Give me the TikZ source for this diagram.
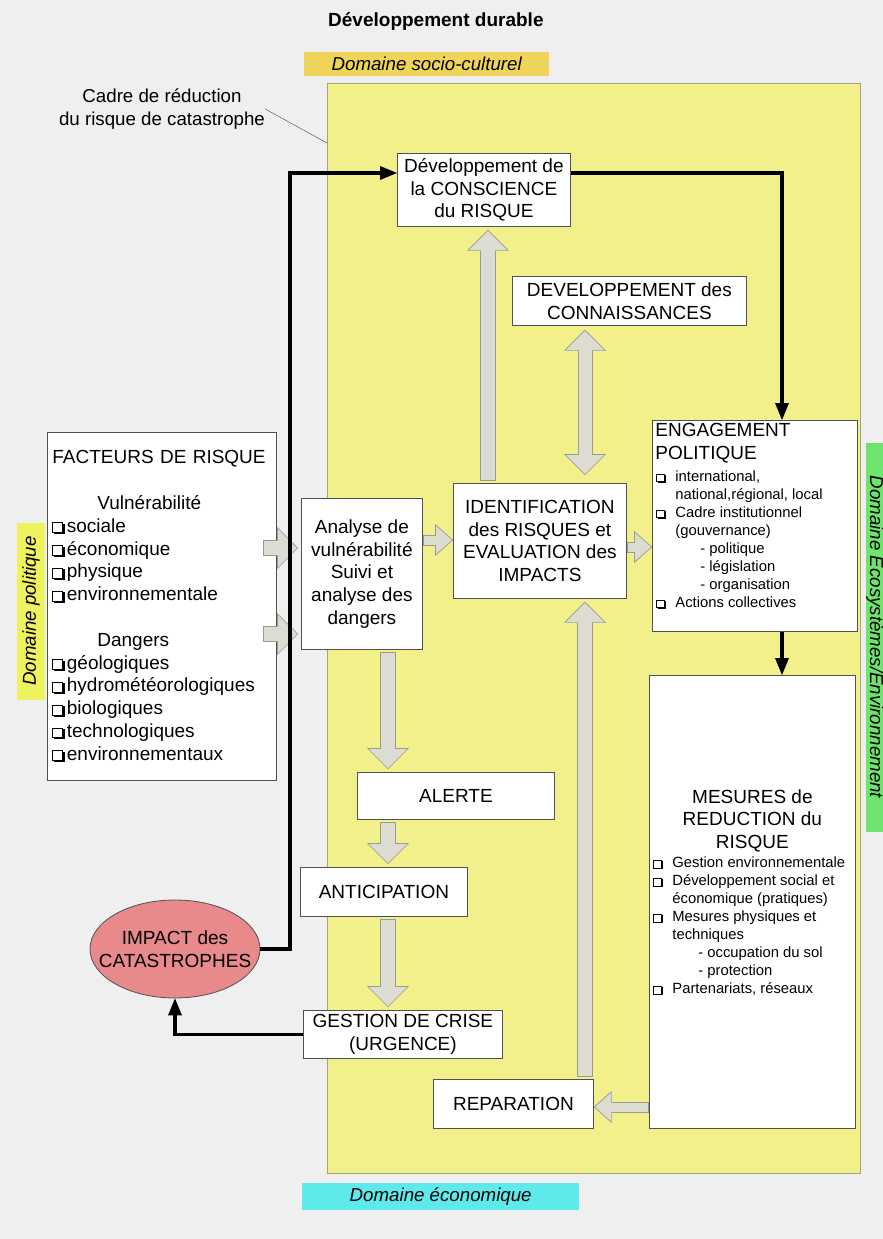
\documentclass[tikz,border=0pt]{standalone}
\usepackage{fontspec}
\setmainfont{Liberation Sans}
\usetikzlibrary{arrows.meta,shapes.geometric,calc}

\definecolor{bggray}{HTML}{EFEFEF}
\definecolor{ylw}{HTML}{F2F08A}
\definecolor{ylwline}{HTML}{A4A47C}
\definecolor{socioband}{HTML}{F0D45A}
\definecolor{polband}{HTML}{EEF25C}
\definecolor{ecoband}{HTML}{6EE46E}
\definecolor{cyanband}{HTML}{5EEAEA}
\definecolor{boxline}{HTML}{505050}
\definecolor{arrowfill}{HTML}{DCDCD2}
\definecolor{arrowline}{HTML}{9A9A94}
\definecolor{impactfill}{HTML}{E8898B}

\newcommand\bigtxt{\fontsize{19}{22.8}\selectfont}
\newcommand\smalltxt{\fontsize{14.8}{18}\selectfont}
\newcommand\bandtxt{\fontsize{18.7}{22.6}\selectfont}
% shadowed check box
\newcommand\cb[2]{{\setlength\fboxsep{0pt}\setlength\fboxrule{0.7pt}%
  \rlap{\hspace{#2}\raisebox{-#2}{\rule{#1}{#1}}}%
  \fcolorbox{black}{white}{\rule{0pt}{\dimexpr#1-1.4pt\relax}\hspace{\dimexpr#1-1.4pt\relax}}}}
\newcommand\chk{\makebox[20pt][l]{\hspace{0.5pt}\cb{8.5pt}{1.6pt}}}
\newcommand\chkbig{\makebox[14.5pt][l]{\cb{10.5pt}{2pt}}}

\begin{document}
\begin{tikzpicture}[x=1pt, y=-1pt, >={Triangle[length=17pt,width=14pt,line width=0pt]}]
	\tikzset{frame/.style={draw=boxline, fill=white, line width=0.8pt, inner sep=3pt, anchor=north west, font=\bigtxt},
		box/.style={frame, align=center},
		band/.style={inner sep=0pt, font=\bandtxt\itshape},
		flow/.style={line width=3.4pt, ->},
		gbig/.style={draw=arrowfill, line width=14pt, shorten <=3pt, shorten >=4pt,
			-{Triangle[length=19pt,width=38pt,line width=0pt]},
			preaction={draw=arrowline, line width=16pt, shorten <=2pt, shorten >=2.8pt,
				-{Triangle[length=21pt,width=42pt,line width=0pt]}}},
		gdbl/.style={draw=arrowfill, line width=13pt, shorten <=5pt, shorten >=9pt,
			{Triangle[length=19pt,width=38pt,line width=0pt]}-{Triangle[length=19pt,width=38pt,line width=0pt]},
			preaction={draw=arrowline, line width=15pt, shorten <=3.8pt, shorten >=7.8pt,
				{Triangle[length=21pt,width=42pt,line width=0pt]}-{Triangle[length=21pt,width=42pt,line width=0pt]}}},
		gsmall/.style={draw=arrowfill, line width=9pt, shorten <=1pt, shorten >=1pt,
			-{Triangle[length=16pt,width=28pt,line width=0pt]},
			preaction={draw=arrowline, line width=11pt, shorten <=0pt, shorten >=-0.2pt,
				-{Triangle[length=18pt,width=32pt,line width=0pt]}}}}
	\useasboundingbox (0,0) rectangle (883,1239);
	\fill[bggray] (0,0) rectangle (883,1239);

	% domaines
	\node[draw=ylwline, fill=ylw, line width=0.6pt, minimum width=533pt, minimum height=1090pt, inner sep=0pt, anchor=north west] (drr) at (327,83) {};
	\node[font=\bigtxt\bfseries, anchor=west, inner sep=0pt] (durable) at (328,22) {Développement durable};
	\node[band, fill=socioband, minimum width=245pt, minimum height=24pt, anchor=north west] (socio) at (304,52) {Domaine socio-culturel};
	\node[band, fill=polband, rotate=90, minimum width=177pt, minimum height=28pt] (politique) at (31,611) {Domaine politique};
	\node[band, fill=ecoband, rotate=-90, minimum width=389pt, minimum height=16pt] (ecosys) at (875,637) {Domaine Ecosystèmes/Environnement};
	\node[band, fill=cyanband, minimum width=277pt, minimum height=27pt, anchor=north west] (economique) at (302,1183) {Domaine économique};
	\node[font=\bandtxt, align=center, inner sep=0pt] (cadre) at (162,109) {Cadre de réduction\\du risque de catastrophe};
	\draw[line width=0.5pt, gray!70!black] (cadre.east) -- (drr.west |- 0,143);

	% boites
	\node[box, minimum width=173pt, minimum height=73pt] (conscience) at (397,153) {Développement de\\la CONSCIENCE\\du RISQUE};
	\node[box, minimum width=234pt, minimum height=49pt] (connaiss) at (512,276) {DEVELOPPEMENT des\\CONNAISSANCES};
	\node[frame, text width=219pt, inner xsep=5pt, minimum height=348pt, align=left] (facteurs) at (47,432) {FACTEURS DE RISQUE\\[22.8pt]
		\hspace*{45pt}Vulnérabilité\\
		\chkbig sociale\\
		\chkbig économique\\
		\chkbig physique\\
		\chkbig environnementale\\[22.8pt]
		\hspace*{45pt}Dangers\\
		\chkbig géologiques\\
		\chkbig hydrométéorologiques\\
		\chkbig biologiques\\
		\chkbig technologiques\\
		\chkbig environnementaux};
	\node[box, minimum width=121pt, minimum height=151pt] (analyse) at (301,498) {Analyse de\\vulnérabilité\\Suivi et\\analyse des\\dangers};
	\node[box, minimum width=173pt, minimum height=115pt] (ident) at (453,483) {IDENTIFICATION\\des RISQUES et\\EVALUATION des\\IMPACTS};
	\node[frame] (engage) at (652,420) {\parbox[t][205pt][t]{199pt}{\raggedright
		ENGAGEMENT\par POLITIQUE\par
		\vspace{4pt}
		{\smalltxt
		\chk international,\par
		\hspace*{20pt}national,régional, local\par
		\chk Cadre institutionnel\par
		\hspace*{20pt}(gouvernance)\par
		\hspace*{45pt}- politique\par
		\hspace*{45pt}- législation\par
		\hspace*{45pt}- organisation\par
		\chk Actions collectives\par}}};
	\node[frame] (mesures) at (649,675) {\parbox[t][447pt][t]{200pt}{\vspace*{111pt}
		{\centering MESURES de\\REDUCTION du\\RISQUE\par}
		\vspace{1pt}
		{\smalltxt\raggedright
		\chk Gestion environnementale\par
		\chk Développement social et\par
		\hspace*{20pt}économique (pratiques)\par
		\chk Mesures physiques et\par
		\hspace*{20pt}techniques\par
		\hspace*{46pt}- occupation du sol\par
		\hspace*{46pt}- protection\par
		\chk Partenariats, réseaux\par}}};
	\node[box, minimum width=197pt, minimum height=47pt] (alerte) at (357,772) {ALERTE};
	\node[box, minimum width=167pt, minimum height=49pt] (anticip) at (300,867) {ANTICIPATION};
	\node[box, minimum width=199pt, minimum height=48pt, inner ysep=1pt] (gestion) at (303,1010) {GESTION DE CRISE\\(URGENCE)};
	\node[box, minimum width=160pt, minimum height=49pt] (repar) at (433,1079) {REPARATION};
	\node[ellipse, draw=boxline, fill=impactfill, line width=0.8pt, minimum width=170pt, minimum height=98pt, inner xsep=-19pt, inner ysep=0pt, align=center, font=\bigtxt] (impact) at (175,949) {IMPACT des\\CATASTROPHES};

	% fleches grises
	\draw[gbig] ($(facteurs.east |- 0,548)+(-16,0)$) -- (analyse.west |- 0,548);
	\draw[gbig] ($(facteurs.east |- 0,634)+(-16,0)$) -- (analyse.west |- 0,634);
	\draw[gsmall] (analyse.east |- 0,540) -- (ident.west |- 0,540);
	\draw[gsmall] (ident.east |- 0,547) -- (engage.west |- 0,547);
	\draw[gbig] (488,0 |- ident.north) -- (488,0 |- conscience.south);
	\draw[gdbl] (585,0 |- connaiss.south) -- (585,0 |- ident.north);
	\draw[gbig] (388,0 |- analyse.south) -- (388,0 |- alerte.north);
	\draw[gbig] (388,0 |- alerte.south) -- (388,0 |- anticip.north);
	\draw[gbig] (388,0 |- anticip.south) -- (388,0 |- gestion.north);
	\draw[gsmall] (mesures.west |- 0,1107) -- (repar.east |- 0,1107);
	\draw[gbig] (585,0 |- repar.north) -- (585,0 |- ident.south);

	% fleches noires
	\coordinate (lcol) at (290,173);
	\coordinate (rcol) at (782,173);
	\draw[flow] (impact.east) -| (lcol) -- (lcol -| conscience.west);
	\draw[flow] (lcol -| conscience.east) -| (rcol |- engage.north);
	\draw[flow] (rcol |- engage.south) -- (rcol |- mesures.north);
	\draw[flow] (gestion.west) -| (impact.south);
\end{tikzpicture}
\end{document}
